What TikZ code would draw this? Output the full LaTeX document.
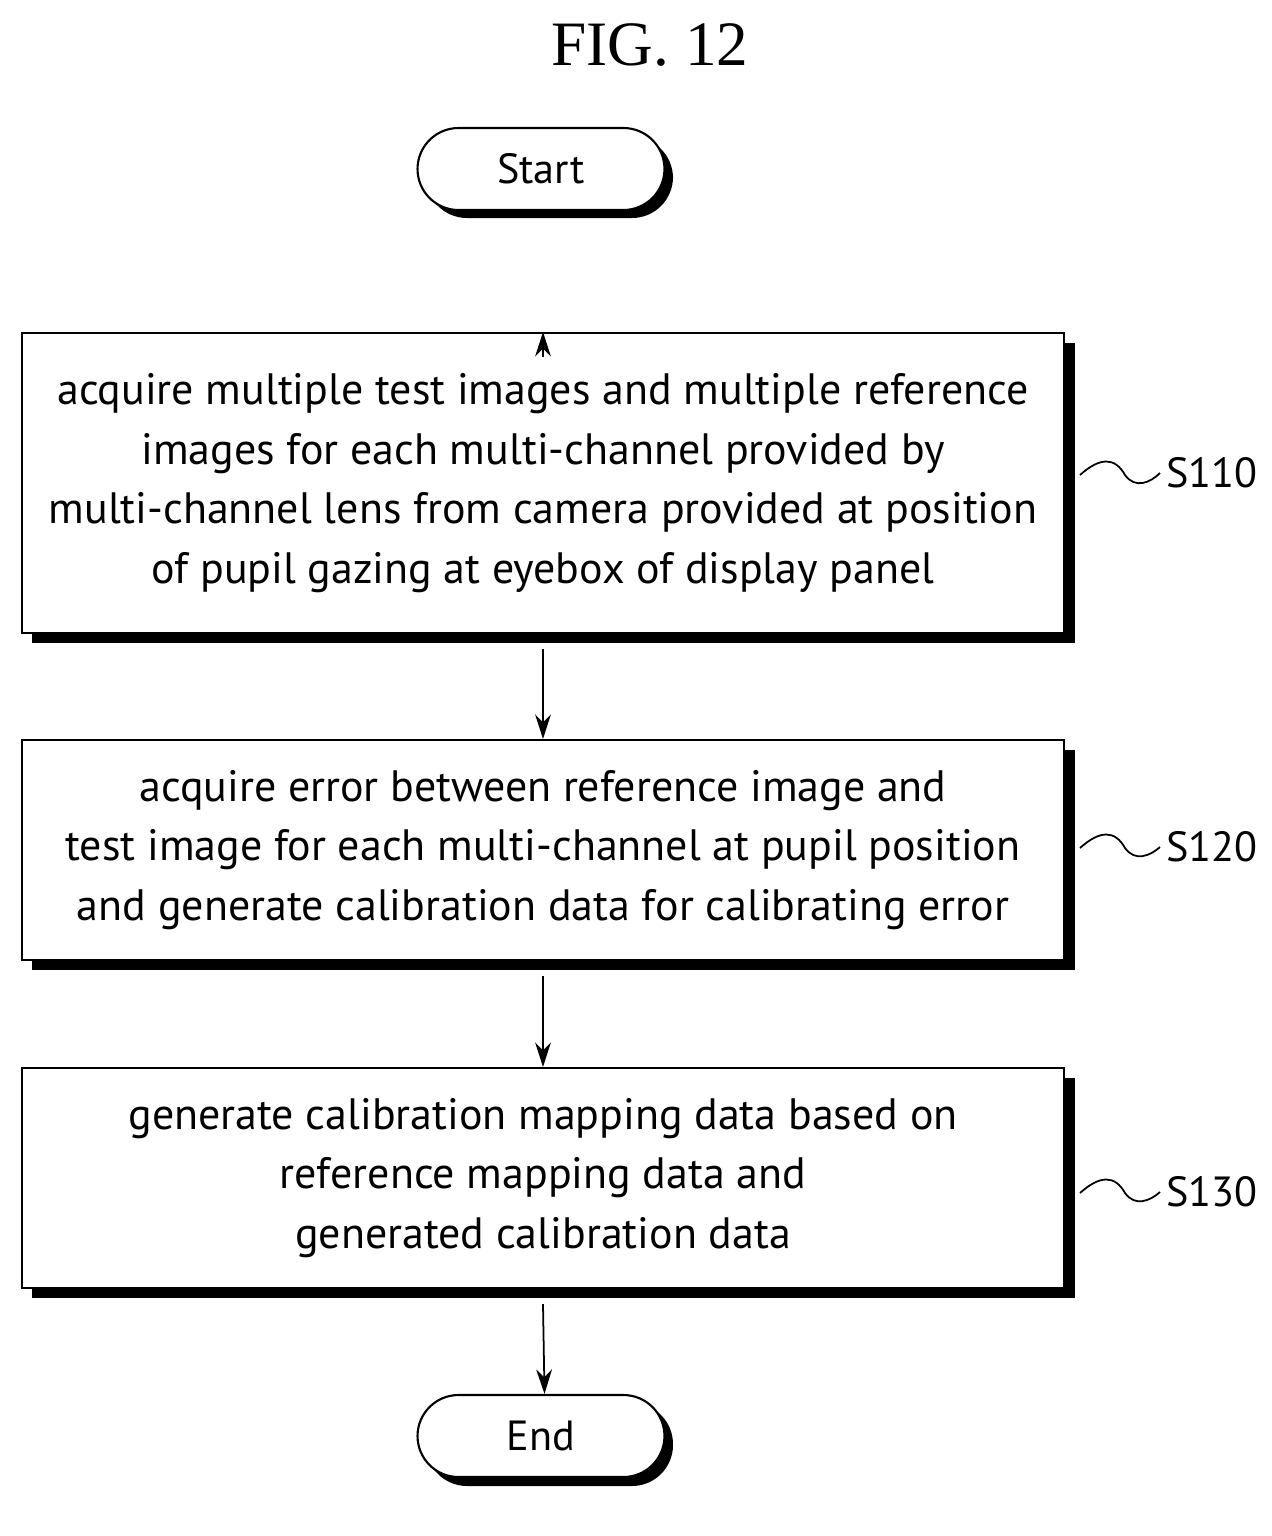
\documentclass[tikz,border=0pt]{standalone}
\usepackage{fontspec}
\setmainfont{Liberation Serif}
\newfontfamily\boxfont{PT Sans}
\usetikzlibrary{arrows.meta}
\begin{document}
\begin{tikzpicture}[x=0.02cm,y=-0.02cm,
  box/.style={draw,line width=1.2pt,fill=white,minimum width=20.86cm,minimum height=#1,inner sep=0pt,align=center,font=\boxfont\fontsize{25}{34}\selectfont},
  term/.style={draw,line width=1.2pt,fill=white,rounded corners=0.82cm,minimum width=4.94cm,minimum height=1.64cm,font=\boxfont\fontsize{24}{28}\selectfont},
  arr/.style={-{Stealth[length=14pt,width=9pt]},line width=1pt},
  lbl/.style={font=\boxfont\fontsize{24}{28}\selectfont,anchor=west}]
\useasboundingbox (0,0) rectangle (1272,1536);
\node[font=\fontsize{36}{40}\selectfont] (title) at (650,45) {FIG. 12};
% shadows
\fill[rounded corners=0.82cm] (426,137) rectangle (673,218);
\fill (32,343) rectangle (1075,643);
\fill (32,750) rectangle (1075,970);
\fill (32,1078) rectangle (1075,1298);
\fill[rounded corners=0.82cm] (426,1403) rectangle (673,1486);
\node[term] (start) at (541,169) {Start};
\node[box=6cm] (s110) at (543,483) {acquire multiple test images and multiple reference\\images for each multi-channel provided by\\multi-channel lens from camera provided at position\\of pupil gazing at eyebox of display panel};
\node[box=4.4cm] (s120) at (543,850) {acquire error between reference image and\\test image for each multi-channel at pupil position\\and generate calibration data for calibrating error};
\node[box=4.4cm] (s130) at (543,1178) {generate calibration mapping data based on\\reference mapping data and\\generated calibration data};
\node[term] (end) at (541,1436) {End};
\draw[arr] ([yshift=-0.5cm]s110.north) -- (s110.north);
\draw[arr] ([yshift=-0.3cm]s110.south) -- (s120.north);
\draw[arr] ([yshift=-0.3cm]s120.south) -- (s130.north);
\draw[arr] ([yshift=-0.3cm]s130.south) -- ([xshift=2pt]end.north);
\node[lbl] (l1) at (1160,473) {S110};
\node[lbl] (l2) at (1160,847) {S120};
\node[lbl] (l3) at (1160,1192) {S130};
\foreach \y/\l in {475/l1,848/l2,1193/l3}{
 \draw[line width=1pt] (1080,\y) .. controls (1100,\y-18) and (1115,\y-18) .. (1125,\y) .. controls (1135,\y+14) and (1150,\y+8) .. (\l.west);}
\end{tikzpicture}
\end{document}
